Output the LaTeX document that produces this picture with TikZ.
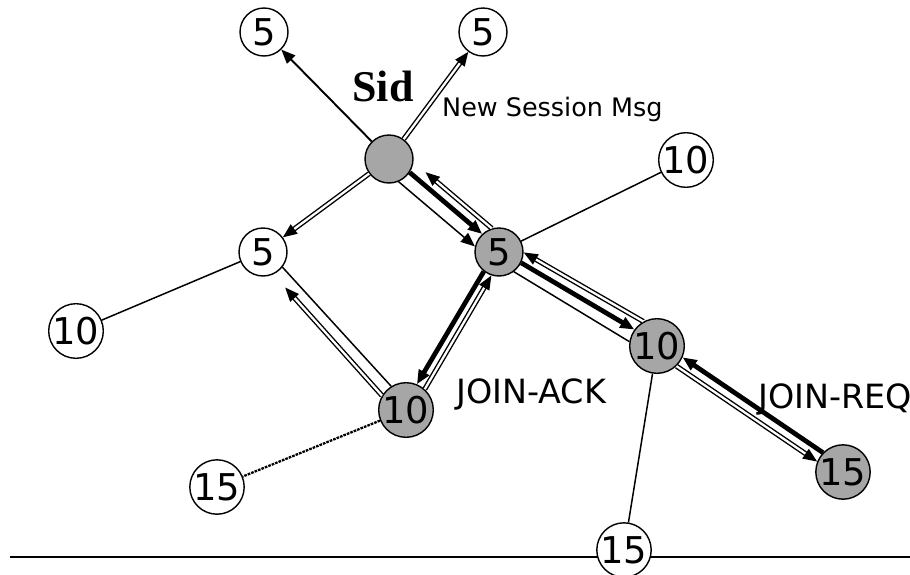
\documentclass[tikz,border=0pt]{standalone}
\usepackage{fontspec}
\setmainfont{DejaVu Sans}
\newfontfamily\sidfont{Liberation Serif}
\usetikzlibrary{arrows.meta}

\begin{document}
\begin{tikzpicture}[
    x=0.02cm, y=-0.02cm,
    peer/.style={circle, draw, line width=0.8pt, fill=white, minimum size=0.96cm, inner sep=0pt, font=\fontsize{21}{21}\selectfont},
    member/.style={peer, fill=gray!70},
    link/.style={line width=0.85pt},
    tip/.style={-{Triangle[length=8pt,width=6.5pt]}},
    msg/.style={tip, line width=0.8pt, double, double distance=1.3pt},
    ack/.style={tip, line width=2.7pt},
    lbl/.style={font=\fontsize{19}{19}\selectfont, anchor=base west}
]
% Frame
\useasboundingbox (0,0) rectangle (910,575);
% Ground line
\coordinate (ground west) at (10,557);
\coordinate (ground east) at (910,557);
\draw[line width=1.2pt] (ground west) -- (ground east);
% Source
\node[member] (sid) at (389,159) {};
\node[font=\sidfont\bfseries\fontsize{25}{25}\selectfont] (sidlbl) at (383,86) {Sid};
% Tree members
\node[peer] (tl5) at (264,32) {5};
\node[peer] (tr5) at (483,32) {5};
\node[peer] (ml5) at (263,252) {5};
\node[peer] (fl10) at (76,331) {10};
\node[member] (m5) at (499,252) {5};
\node[peer] (tr10) at (686,160) {10};
\node[member] (g10) at (657,346) {10};
\node[member] (ack10) at (406,410) {10};
\node[peer] (l15) at (217,487) {15};
\node[member] (r15) at (843,472) {15};
\node[peer] (b15) at (624,550) {15};
% Labels
\node[font=\fontsize{14.5}{15}\selectfont, anchor=base west] (newmsg) at (436,116) {New Session Msg};
\node[lbl] (acklbl) at (450,403) {JOIN-ACK};
\node[lbl] (reqlbl) at (752,408) {JOIN-REQ};
% New session message
\draw[tip, line width=1.1pt] (sid) -- (tl5);
\draw[msg] (sid) -- (tr5);
\draw[msg] (sid) -- (ml5);
% Sid -- 5
\draw[msg, shorten >=9pt] (m5.107) -- (sid.-7);
\draw[ack] (sid.-33) -- (m5.133);
\draw[link, tip] (sid.-67) -- (m5.167);
% 5 -- 10
\draw[msg] (g10.119) -- (m5.-1);
\draw[ack] (m5.-26) -- (g10.144);
\draw[link] (m5.-53) -- (g10.171);
% 10 -- 15
\draw[ack] (r15.136) -- (g10.-24);
\draw[msg] (g10.-46) -- (r15.158);
% 5 -- 10 (JOIN-ACK)
\draw[ack] (m5.232) -- (ack10.67);
\draw[msg] (ack10.48) -- (m5.252);
% 5 -- 10 (left)
\draw[link] (ml5.-38) -- (ack10.122);
\draw[msg, shorten >=10pt] (ack10.149) -- (ml5.-65);
% Plain links
\draw[link] (m5) -- (tr10);
\draw[link] (ml5) -- (fl10);
\draw[link] (g10) -- (b15);
\draw[link, line width=1.3pt, dash pattern=on 1.5pt off 0.6pt] (ack10) -- (l15);
\end{tikzpicture}
\end{document}
